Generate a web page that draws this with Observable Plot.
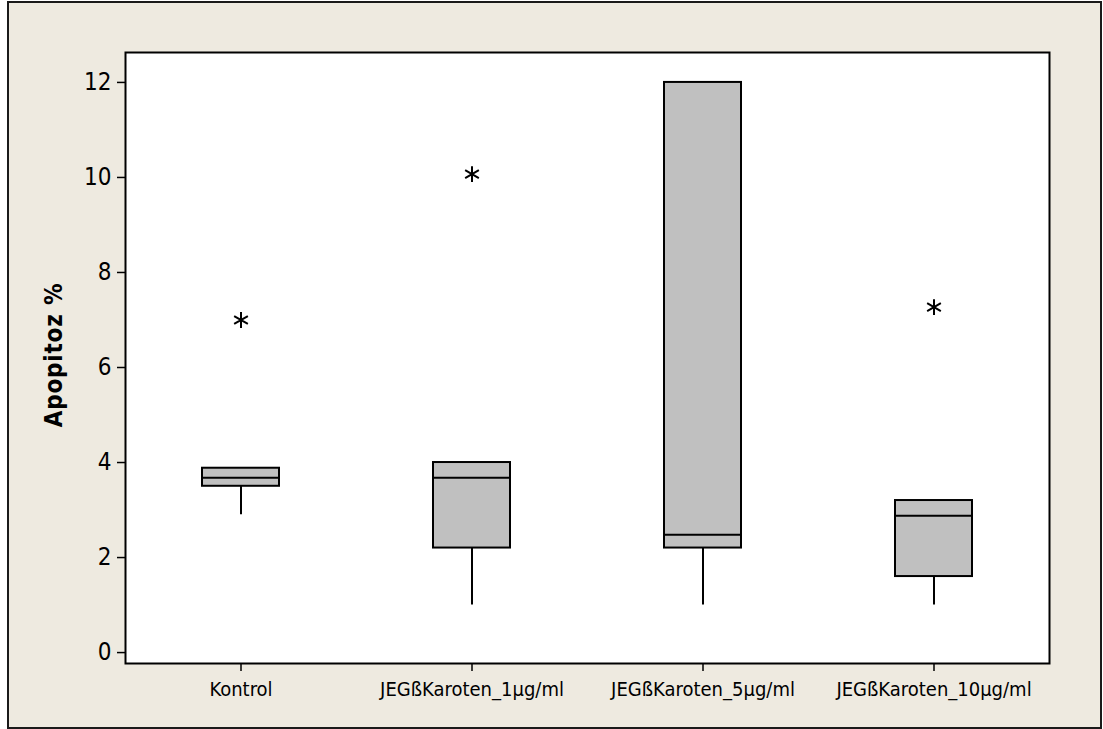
<!DOCTYPE html>
<html>
<head>
<meta charset="utf-8">
<script src="https://cdn.jsdelivr.net/npm/d3@7"></script>
<script src="https://cdn.jsdelivr.net/npm/@observablehq/plot@0.6"></script>
<style>
  html, body { margin: 0; padding: 0; background: #ffffff; }
  #wrap { position: relative; width: 1103px; height: 729px; }
  #bg { position: absolute; left: 7px; top: 1px; width: 1091px; height: 724px;
        background: #EEEAE0; border: 2px solid #1a1a1a; }
  #chart { position: absolute; left: 0; top: 0; }
</style>
</head>
<body>
<div id="wrap"><div id="bg"></div><div id="chart"></div></div>
<script>
const categories = ["Kontrol", "JEGßKaroten_1µg/ml", "JEGßKaroten_5µg/ml", "JEGßKaroten_10µg/ml"];
const q1 = [3.5, 2.2, 2.2, 1.6];
const median = [3.68, 3.68, 2.48, 2.88];
const q3 = [3.88, 4.0, 12.0, 3.2];
const whiskerLow = [2.9, 1.0, 1.0, 1.0];
const whiskerHigh = [3.88, 4.0, 12.0, 3.2];
const outlierCategory = ["Kontrol", "JEGßKaroten_1µg/ml", "JEGßKaroten_10µg/ml"];
const outlierValue = [7.0, 10.07, 7.27];
const yTicks = [0, 2, 4, 6, 8, 10, 12];

const boxes = categories.map((c, i) => ({
  cat: c, q1: q1[i], med: median[i], q3: q3[i], lo: whiskerLow[i], hi: whiskerHigh[i]
}));
const outliers = outlierCategory.map((c, i) => ({cat: c, v: outlierValue[i]}));

const font = "'DejaVu Sans Condensed', 'DejaVu Sans', sans-serif";
const inset = 77;

const chart = Plot.plot({
  width: 1103,
  height: 729,
  marginLeft: 125,
  marginTop: 52,
  marginRight: 54,
  marginBottom: 66,
  style: { background: "transparent", fontFamily: font, color: "#000" },
  x: { type: "band", domain: categories, padding: 0 },
  y: { domain: [-0.23, 12.63] },
  marks: [
    Plot.frame({ fill: "white", stroke: "none" }),
    Plot.ruleX(boxes, { x: "cat", y1: "lo", y2: "q1", stroke: "black", strokeWidth: 2 }),
    Plot.ruleX(boxes, { x: "cat", y1: "q3", y2: "hi", stroke: "black", strokeWidth: 2 }),
    Plot.barY(boxes, { x: "cat", y1: "q1", y2: "q3", fill: "#C0C0C0", stroke: "black", strokeWidth: 2, insetLeft: inset, insetRight: inset }),
    Plot.tickY(boxes, { x: "cat", y: "med", stroke: "black", strokeWidth: 2, insetLeft: inset, insetRight: inset }),
    Plot.dot(outliers, { x: "cat", y: "v", symbol: "asterisk", r: 7.5, stroke: "black", strokeWidth: 2 }),
    Plot.axisY({ ticks: yTicks, tickSize: 8, tickPadding: 6, fontSize: 24, label: null, stroke: "black", strokeWidth: 1.5 }),
    Plot.axisX({ tickSize: 8, tickPadding: 10, fontSize: 20, label: null, stroke: "black", strokeWidth: 1.5 }),
    Plot.frame({ stroke: "black", strokeWidth: 2 })
  ]
});

const svg = d3.select(chart);
svg.append("text")
  .attr("transform", "translate(54,355) rotate(-90)")
  .attr("text-anchor", "middle")
  .attr("dominant-baseline", "central")
  .attr("font-family", font)
  .attr("font-weight", "bold")
  .attr("font-size", 24)
  .attr("letter-spacing", 0.8)
  .attr("fill", "black")
  .text("Apopitoz %");

document.getElementById("chart").appendChild(chart);
</script>
</body>
</html>
